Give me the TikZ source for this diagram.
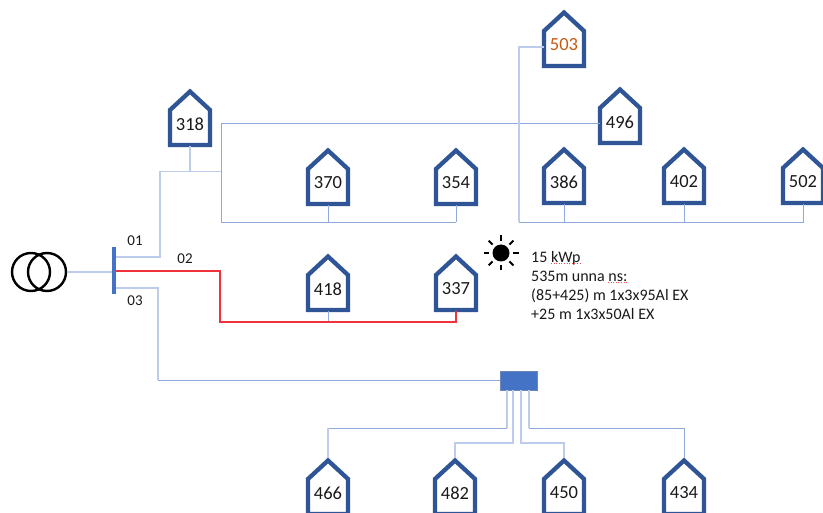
\documentclass[tikz,border=0pt]{standalone}
\usepackage{fontspec}
\setmainfont{Carlito}
\definecolor{housecol}{HTML}{2F5597}
\definecolor{wirecol}{HTML}{8FAADC}
\definecolor{buscol}{HTML}{4472C4}
\definecolor{redcol}{HTML}{F0323C}
\definecolor{orangecol}{HTML}{C55A11}
\definecolor{textcol}{HTML}{1A1A1A}
\tikzset{
  x=1pt,y=-1pt,
  wire/.style={draw=wirecol,line width=0.9pt,line join=miter},
  softwire/.style={draw=wirecol!60,line width=1.1pt},
  redwire/.style={draw=redcol,line width=1.2pt},
  houseline/.style={draw=housecol,line width=4.3pt,line join=miter,fill=white},
  hbody/.style={inner sep=0pt,minimum width=40pt,minimum height=42pt,font=\fontsize{18.5}{20}\selectfont,text=textcol},
  trafo/.style={circle,draw=black,line width=2.4pt,minimum size=38pt,inner sep=0pt},
  feeder/.style={font=\fontsize{15}{17}\selectfont,text=textcol,inner sep=0pt},
  note/.style={font=\fontsize{16}{19.2}\selectfont,text=textcol,inner sep=0pt,align=left,anchor=north west},
  squiggle/.style={draw=red!70,line width=0.6pt,dotted},
}
% #1 options, #2 centre x, #3 apex y, #4 name and text
\newcommand{\hut}[4][]{%
  \path[houseline] (#2-20,#3+22) -- (#2,#3+3.5) -- (#2+20,#3+22) -- (#2+20,#3+57) -- (#2-20,#3+57) -- cycle;
  \coordinate (apex#4) at (#2,#3+1);
  \coordinate (base#4) at (#2,#3+58);
  \node[hbody,#1] (h#4) at (#2,#3+36) {#4};
}
\begin{document}
\begin{tikzpicture}
\useasboundingbox (0,0) rectangle (823,513);
\clip (0,0) rectangle (823,513);
\fill[white] (0,0) rectangle (823,513);

\hut{190}{88}{318}
\hut{328}{147}{370}
\hut{456}{147}{354}
\hut[text=orangecol]{564}{9}{503}
\hut{620}{86}{496}
\hut{564}{146}{386}
\hut{684}{146}{402}
\hut{803}{146}{502}
\hut{328}{253}{418}
\hut{456}{253}{337}
\hut{328}{457}{466}
\hut{455}{457}{482}
\hut{564}{457}{450}
\hut{684}{457}{434}

\node[trafo] (t1) at (31,272) {};
\node[trafo] (t2) at (47,272) {};
\node[inner sep=0pt,minimum width=3.4pt,minimum height=47pt,fill=buscol] (bus) at (114,271) {};
\node[inner sep=0pt,minimum width=37pt,minimum height=19pt,fill=buscol,draw=housecol!70,line width=0.6pt] (box) at (518.5,380.5) {};

\coordinate (a1) at (160,257);
\coordinate (a2) at (160,171.5);
\coordinate (a3) at (221,171.5);
\coordinate (a4) at (221,123.5);
\coordinate (a5) at (221,222);
\coordinate (b1) at (519,47);
\coordinate (b2) at (519,222);
\coordinate (c1) at (220,271);
\coordinate (c2) at (220,322);
\coordinate (d1) at (158,288);
\coordinate (d2) at (158,380);
\coordinate (e1) at (507,428);
\coordinate (e2) at (513,443);
\coordinate (e3) at (521,443);
\coordinate (e4) at (529,428);

% connectors
\draw[softwire] (t2.east) -- (bus.west |- t2.east);
\draw[softwire] (bus.east |- a1) -- (a1) -- (a2) -- (a3);
\draw[softwire] (base318) -- (base318 |- a3);
\draw[wire] (a4) -- (a5);
\draw[wire] (a3) -- (a4) -- (h496.west |- a4);
\draw[wire] (a5) -- (base354 |- a5);
\draw[wire] (base370) -- (base370 |- a5);
\draw[wire] (base354) -- (base354 |- a5);
\draw[softwire] (h503.west |- b1) -- (b1) -- (b2);
\draw[wire] (b2) -| (base502);
\draw[wire] (base386) -- (base386 |- b2);
\draw[wire] (base402) -- (base402 |- b2);
\draw[wire] (base418) -- (base418 |- c2);
\draw[redwire] (bus.east |- c1) -- (c1) -- (c2) -| (base337);
\draw[softwire] (bus.east |- d1) -- (d1) -- (d2);
\draw[wire] (d2) -- (box.west |- d2);
\draw[softwire] (box.south -| e1) -- (e1);
\draw[wire] (e1) -- (e1 -| apex466);
\draw[softwire] (e1 -| apex466) -- (apex466);
\draw[softwire] (box.south -| e2) -- (e2) -| (apex482);
\draw[softwire] (box.south -| e3) -- (e3) -| (apex450);
\draw[softwire] (box.south -| e4) -- (e4);
\draw[wire] (e4) -| (apex434);

% labels
\node[feeder] (l01) at (135,240.5) {01};
\node[feeder] (l02) at (185,259) {02};
\node[feeder] (l03) at (135,300.5) {03};

% sun
\fill[black] (501,253) circle (8.5);
\foreach \a in {0,45,...,315}
  \draw[black,line width=2.1pt] (501,253) ++(\a:12) -- ++(\a:5.5);

\node[note] (txt) at (531,251) {15 kWp\\535m unna ns:\\(85+425) m 1x3x95Al EX\\+25 m 1x3x50Al EX};
\draw[squiggle] (551,263.5) -- (580,263.5);
\draw[squiggle] (608,282.5) -- (627,282.5);
\end{tikzpicture}
\end{document}
